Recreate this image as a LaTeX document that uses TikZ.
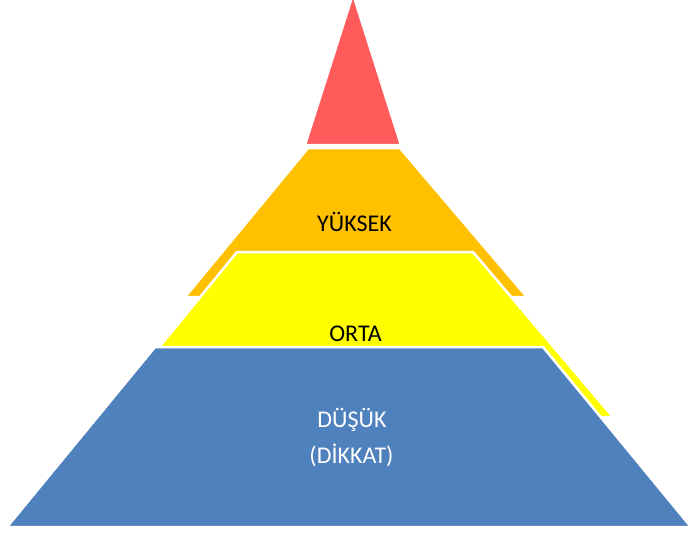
\documentclass[tikz,border=0pt]{standalone}
\usepackage{fontspec}
\setmainfont{Carlito}
\definecolor{topred}{HTML}{FF5B5B}
\definecolor{highor}{HTML}{FFC000}
\definecolor{midyel}{HTML}{FFFF00}
\definecolor{lowblu}{HTML}{4F81BD}
\tikzset{
  layer/.style={draw=white, line width=2.5pt, line join=miter},
  lbl/.style={anchor=base, inner sep=0pt, font=\fontsize{24}{28}\selectfont},
}
\begin{document}
\begin{tikzpicture}[x=1pt,y=-1pt]
\useasboundingbox (0,0) rectangle (691,533);
% orange layer
\path[layer, fill=highor] (308,148) -- (400,148) -- (527,297) -- (185,297) -- cycle;
% yellow layer
\path[layer, fill=midyel] (237,252) -- (473,252) -- (613,417) -- (102,417) -- cycle;
% blue layer
\path[layer, fill=lowblu] (155,347) -- (543,347) -- (691,527) -- (7,527) -- cycle;
% red top
\path[layer, fill=topred, line join=bevel] (353,-6) -- (401,145) -- (305,145) -- cycle;
% labels
\node[lbl, text=black] (yuksek) at (354.5,231) {YÜKSEK};
\node[lbl, text=black] (orta) at (355.5,341) {ORTA};
\node[lbl, text=white] (dusuk) at (352,427) {DÜŞÜK};
\node[lbl, text=white] (dikkat) at (351.5,463) {(DİKKAT)};
\end{tikzpicture}
\end{document}
